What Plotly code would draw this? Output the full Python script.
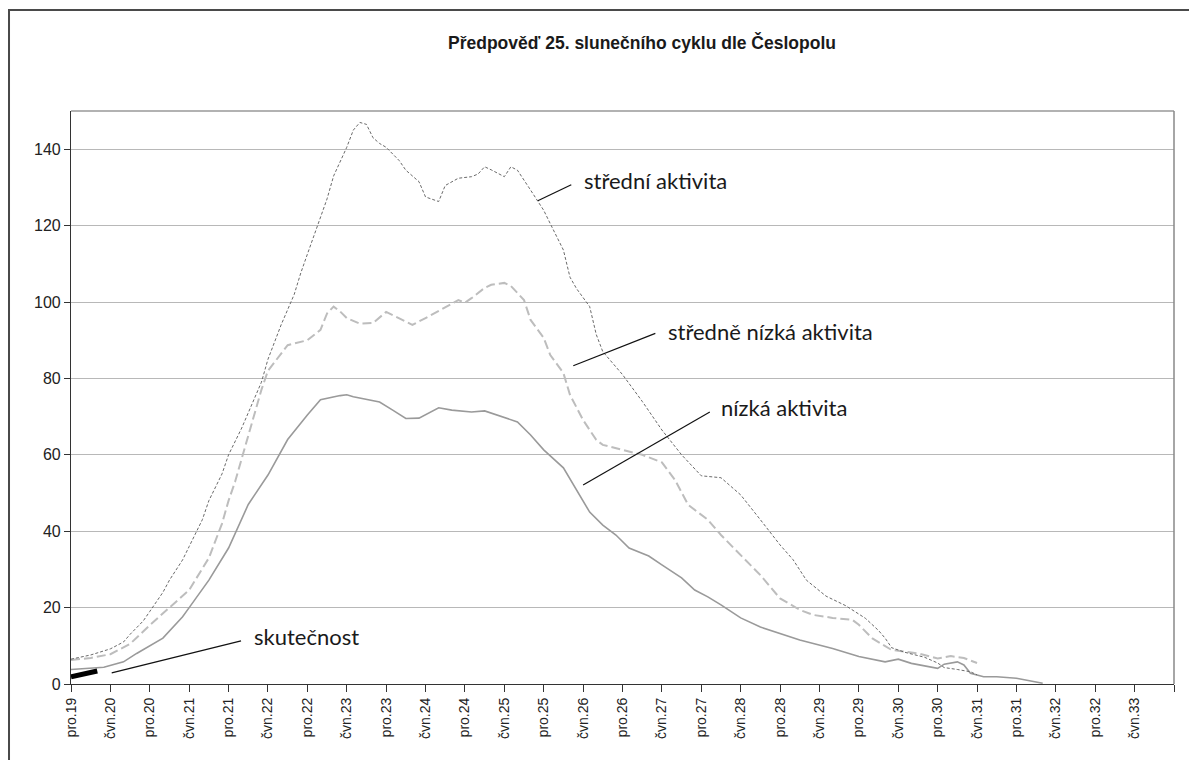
import plotly.graph_objects as go

# x = months since Dec 2019 (pro.19)
tick_labels = ["pro.19", "čvn.20", "pro.20", "čvn.21", "pro.21", "čvn.22", "pro.22",
               "čvn.23", "pro.23", "čvn.24", "pro.24", "čvn.25", "pro.25", "čvn.26",
               "pro.26", "čvn.27", "pro.27", "čvn.28", "pro.28", "čvn.29", "pro.29",
               "čvn.30", "pro.30", "čvn.31", "pro.31", "čvn.32", "pro.32", "čvn.33", ""]
tick_months = [6 * i for i in range(len(tick_labels))]

stredni_m = [0, 3, 6, 8, 9, 11, 12, 14, 15, 17, 18, 20, 21, 23, 24, 26, 27, 29, 30, 32, 34, 35,
             36, 38, 39, 40, 42, 43, 44, 45, 46, 47, 48, 50, 51, 53, 54, 56, 57, 59, 61, 62, 63,
             64, 66, 67, 68, 70, 72, 73, 75, 76, 77, 79, 80, 81, 84, 87, 90, 93, 96, 99, 100,
             102, 105, 108, 110, 112, 115, 118, 121, 123, 124, 125, 127, 130, 132, 133, 135,
             137, 138]
stredni_v = [6.5, 7.6, 9.2, 11, 13, 16.5, 19, 24, 27.2, 32.5, 36, 43, 48, 55, 60, 67, 71, 79, 85,
             94, 102, 107.6, 112.5, 122, 127, 133, 140.5, 145, 147, 146.5, 143, 141.5, 140.5,
             137, 134.5, 131.5, 127.5, 126.3, 130.5, 132.4, 132.8, 133.5, 135.4, 134.6, 132.8,
             135.4, 134.5, 129.3, 124, 120.5, 113.6, 106.5, 103.5, 98.8, 91.5, 87, 81, 74, 66.5,
             60, 54.5, 54, 52.5, 49.5, 43, 36.4, 32.5, 27.2, 23, 20.5, 17.2, 14, 12, 9.5, 8.3,
             7, 5.5, 4.3, 3.8, 3.2, 2.4]

stredne_nizka_m = [0, 3, 6, 9, 12, 15, 18, 21, 23, 24, 25, 26, 27, 28, 29, 30, 32, 33, 36, 38,
                   39, 40, 41, 42, 44, 46, 48, 50, 52, 54, 57, 59, 60, 61, 63, 64, 66, 67, 69,
                   70, 72, 73, 75, 76, 78, 80, 81, 84, 87, 90, 92, 94, 97, 99, 102, 105, 108,
                   111, 113, 116, 119, 120, 122, 124, 125, 127, 129, 132, 134, 136, 138]
stredne_nizka_v = [6.3, 6.8, 7.8, 10.5, 15.4, 20, 24.6, 33, 42, 48, 53, 59, 65, 71, 77, 82, 86.5,
                   88.7, 90, 92.7, 97, 98.8, 97.5, 95.8, 94.3, 94.5, 97.4, 95.8, 94, 95.8, 98.5,
                   100.5, 99.8, 101, 103.7, 104.5, 105, 104.2, 100.5, 95.3, 90.6, 86.1, 81.4,
                   75.7, 69.1, 63.9, 62.6, 61.3, 60, 58, 53.4, 46.9, 43, 39, 33.8, 28.5, 22.4,
                   19.4, 18.1, 17.3, 16.8, 15.5, 12, 10, 8.9, 8.5, 8.0, 6.7, 7.3, 6.8, 5.5]

nizka_m = [0, 5, 8, 10, 14, 17, 18, 20, 21, 24, 27, 30, 33, 36, 38, 41, 42, 43, 45, 47, 49, 51,
           53, 54, 56, 58, 61, 63, 65, 68, 70, 72, 75, 77, 79, 81, 83, 85, 88, 90, 93, 95, 97,
           99, 102, 105, 108, 111, 116, 120, 124, 126, 128, 132, 133, 135, 136, 137, 139, 141,
           144, 148]
nizka_v = [3.8, 4.4, 5.8, 8.0, 12, 17.6, 20, 24.6, 27.2, 35.6, 47, 54.7, 64, 70.4, 74.4, 75.5,
           75.7, 75.2, 74.5, 73.8, 71.7, 69.5, 69.6, 70.5, 72.3, 71.7, 71.2, 71.5, 70.4, 68.6,
           65.2, 61.3, 56.6, 50.8, 45, 41.6, 39, 35.6, 33.5, 31.2, 27.8, 24.6, 22.8, 20.7, 17.3,
           14.9, 13.3, 11.5, 9.3, 7.2, 5.8, 6.5, 5.4, 4.1, 5.2, 5.8, 5.0, 2.8, 1.9, 1.9, 1.5, 0.2]

skutecnost_m = [0, 1, 2, 3, 4]
skutecnost_v = [1.9, 2.3, 2.7, 3.1, 3.4]

fig = go.Figure()
fig.add_trace(go.Scatter(x=nizka_m, y=nizka_v, mode="lines", name="nízká aktivita",
                         line=dict(color="#9a9a9a", width=1.6)))
fig.add_trace(go.Scatter(x=stredne_nizka_m, y=stredne_nizka_v, mode="lines",
                         name="středně nízká aktivita",
                         line=dict(color="#bdbdbd", width=2, dash="9px,4px")))
fig.add_trace(go.Scatter(x=stredni_m, y=stredni_v, mode="lines", name="střední aktivita",
                         line=dict(color="#6a6a6a", width=1, dash="3px,2px")))
fig.add_trace(go.Scatter(x=skutecnost_m, y=skutecnost_v, mode="lines", name="skutečnost",
                         line=dict(color="#000000", width=5)))

label_font = dict(family="Lato, Carlito, sans-serif", size=22, color="#1a1a1a")
notes = [
    ("střední aktivita", 77.9, 131.7, (71.1, 126.5), (76.2, 130.7)),
    ("středně nízká aktivita", 90.6, 92.4, (76.5, 83.3), (89.0, 91.8)),
    ("nízká aktivita", 98.7, 72.3, (78.0, 52.1), (97.3, 71.2)),
    ("skutečnost", 27.5, 12.4, (6.2, 2.9), (25.9, 11.3)),
]
shapes = []
annotations = []
for text, tx, ty, p0, p1 in notes:
    annotations.append(dict(x=tx, y=ty, xref="x", yref="y", text=text, showarrow=False,
                            xanchor="left", yanchor="middle", font=label_font))
    shapes.append(dict(type="line", xref="x", yref="y", x0=p0[0], y0=p0[1], x1=p1[0], y1=p1[1],
                       line=dict(color="#111111", width=1.2)))

# plot-area top/right border
shapes.append(dict(type="line", xref="paper", yref="paper", x0=0, x1=1, y0=1, y1=1,
                   line=dict(color="#999999", width=1.5)))
shapes.append(dict(type="line", xref="paper", yref="paper", x0=1, x1=1, y0=0, y1=1,
                   line=dict(color="#888888", width=1.5)))
# outer chart frame
shapes.append(dict(type="rect", xref="paper", yref="paper", x0=-0.0562, x1=1.04, y0=-0.2,
                   y1=1.1763, line=dict(color="#4a4a4a", width=2), layer="below"))

annotations.append(dict(x=0.5177, y=1.1187, xref="paper", yref="paper",
                        text="<b>Předpověď 25. slunečního cyklu dle Česlopolu</b>",
                        showarrow=False, xanchor="center", yanchor="middle",
                        font=dict(family="Liberation Sans, Arial, sans-serif", size=17.5,
                                  color="#1a1a1a")))

fig.update_layout(
    width=1197, height=760,
    margin=dict(l=63, r=31, t=103, b=84),
    paper_bgcolor="white", plot_bgcolor="white",
    showlegend=False,
    shapes=shapes, annotations=annotations,
    xaxis=dict(range=[0, 168], tickmode="array", tickvals=tick_months, ticktext=tick_labels,
               tickangle=-90, ticks="outside", ticklen=7, tickcolor="#333333",
               showline=True, linecolor="#333333", linewidth=1.2, showgrid=False,
               zeroline=False,
               tickfont=dict(family="Liberation Sans, Arial, sans-serif", size=14,
                             color="#222222")),
    yaxis=dict(range=[0, 150], tickmode="array", tickvals=[0, 20, 40, 60, 80, 100, 120, 140],
               ticks="outside", ticklen=6, tickcolor="#333333", showline=True,
               linecolor="#333333", linewidth=1.2, showgrid=True, gridcolor="#b8b8b8",
               gridwidth=1, zeroline=False,
               tickfont=dict(family="Liberation Sans, Arial, sans-serif", size=16,
                             color="#222222")),
)

fig.write_html("out.html")
